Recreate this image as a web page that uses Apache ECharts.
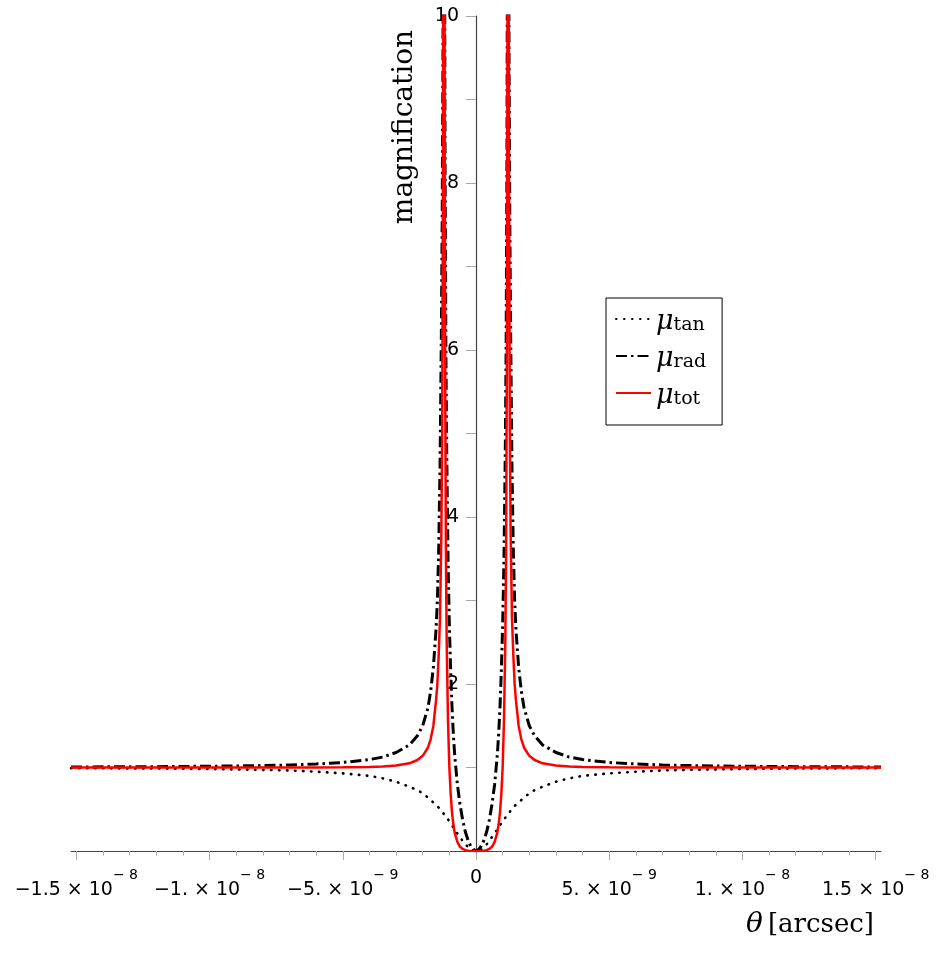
<!DOCTYPE html>
<html>
<head>
<meta charset="utf-8">
<script src="https://cdn.jsdelivr.net/npm/echarts@6/dist/echarts.min.js"></script>
<style>
html, body { margin: 0; background: #fff; }
#chart { width: 945px; height: 955px; }
</style>
</head>
<body>
<div id="chart"></div>
<script>
// theta in units of 1e-9 arcsec
var theta = [
  -15.2, -12, -10, -8, -7, -6, -5, -4, -3.5, -3.0, -2.5, -2.2, -2.0, -1.8, -1.7, -1.6, -1.5, -1.45, -1.4, -1.35, -1.3, -1.27,
  -1.24, -1.22, -1.21, -1.19, -1.18, -1.16, -1.13, -1.1, -1.05, -1.0, -0.95, -0.9, -0.85, -0.8, -0.7, -0.6, -0.5, -0.4, -0.3, -0.2, -0.1,
  0,
  0.1, 0.2, 0.3, 0.4, 0.5, 0.6, 0.7, 0.8, 0.85, 0.9, 0.95, 1.0, 1.05, 1.1, 1.13, 1.16, 1.18, 1.19, 1.21, 1.22, 1.24,
  1.27, 1.3, 1.35, 1.4, 1.45, 1.5, 1.6, 1.7, 1.8, 2.0, 2.2, 2.5, 3.0, 3.5, 4, 5, 6, 7, 8, 10, 12, 15.2
];
var muTan = [
  0.992, 0.988, 0.982, 0.972, 0.965, 0.95, 0.93, 0.90, 0.87, 0.83, 0.77, 0.73, 0.69, 0.64, 0.61, 0.58, 0.55, 0.54, 0.52, 0.50, 0.48, 0.47,
  0.46, 0.45, 0.45, 0.44, 0.43, 0.42, 0.41, 0.40, 0.38, 0.35, 0.33, 0.31, 0.28, 0.26, 0.21, 0.17, 0.12, 0.08, 0.05, 0.02, 0.01,
  0,
  0.01, 0.02, 0.05, 0.08, 0.12, 0.17, 0.21, 0.26, 0.28, 0.31, 0.33, 0.35, 0.38, 0.40, 0.41, 0.42, 0.43, 0.44, 0.45, 0.45, 0.46,
  0.47, 0.48, 0.50, 0.52, 0.54, 0.55, 0.58, 0.61, 0.64, 0.69, 0.73, 0.77, 0.83, 0.87, 0.90, 0.93, 0.95, 0.965, 0.972, 0.982, 0.988, 0.992
];
var muRad = [
  1.006, 1.01, 1.015, 1.023, 1.03, 1.042, 1.06, 1.095, 1.125, 1.18, 1.27, 1.38, 1.5, 1.72, 1.92, 2.2, 2.65, 3.0, 3.6, 4.6, 6.2, 7.5,
  9.5, 12, 14, 14, 11, 8.2, 6.0, 4.8, 3.5, 2.7, 2.15, 1.72, 1.4, 1.15, 0.8, 0.56, 0.37, 0.23, 0.13, 0.06, 0.02,
  0,
  0.02, 0.06, 0.13, 0.23, 0.37, 0.56, 0.8, 1.15, 1.4, 1.72, 2.15, 2.7, 3.5, 4.8, 6.0, 8.2, 11, 14, 14, 12, 9.5,
  7.5, 6.2, 4.6, 3.6, 3.0, 2.65, 2.2, 1.92, 1.72, 1.5, 1.38, 1.27, 1.18, 1.125, 1.095, 1.06, 1.042, 1.03, 1.023, 1.015, 1.01, 1.006
];
var muTot = [
  1.0, 1.0, 1.0, 1.0, 1.0, 1.001, 1.003, 1.007, 1.012, 1.025, 1.05, 1.09, 1.14, 1.24, 1.34, 1.5, 1.8, 2.0, 2.35, 2.8, 3.8, 5.0,
  8, 12, 15, 15, 10, 6.0, 3.6, 2.5, 1.55, 1.0, 0.68, 0.46, 0.32, 0.22, 0.11, 0.05, 0.025, 0.01, 0.004, 0, 0,
  0,
  0, 0, 0.004, 0.01, 0.025, 0.05, 0.11, 0.22, 0.32, 0.46, 0.68, 1.0, 1.55, 2.5, 3.6, 6.0, 10, 15, 15, 12, 8,
  5.0, 3.8, 2.8, 2.35, 2.0, 1.8, 1.5, 1.34, 1.24, 1.14, 1.09, 1.05, 1.025, 1.012, 1.007, 1.003, 1.001, 1.0, 1.0, 1.0, 1.0, 1.0
];

var seriesNames = ['μ_tan', 'μ_rad', 'μ_tot'];
var seriesSubs = ['tan', 'rad', 'tot'];

var xTicks = [-15, -10, -5, 0, 5, 10, 15];
var xTickMantissa = ['−1.5 × 10', '−1. × 10', '−5. × 10', '0', '5. × 10', '1. × 10', '1.5 × 10'];
var xTickExp = ['− 8', '− 8', '− 9', '', '− 9', '− 8', '− 8'];
var xMinorTicks = [-14, -13, -12, -11, -9, -8, -7, -6, -4, -3, -2, -1, 1, 2, 3, 4, 6, 7, 8, 9, 11, 12, 13, 14];
var yTickLabels = [2, 4, 6, 8, 10];

var dom = document.getElementById('chart');
var myChart = echarts.init(dom);

function pairs(values) {
    return theta.map(function (t, i) { return [t, values[i]]; });
}

var option = {
    animation: false,
    grid: { left: 71, right: 64, top: 16, bottom: 104 },
    legend: {
        orient: 'vertical',
        left: 606,
        top: 298,
        selectedMode: false,
        itemWidth: 35,
        itemHeight: 14,
        itemGap: 10,
        padding: [10, 16, 16, 9],
        borderColor: '#000',
        borderWidth: 1,
        backgroundColor: '#fff',
        itemStyle: { opacity: 0 },
        data: seriesNames,
        formatter: function (name) {
            return '{m|μ}{s|' + seriesSubs[seriesNames.indexOf(name)] + '}';
        },
        textStyle: {
            color: '#000',
            rich: {
                m: { fontFamily: 'DejaVu Serif', fontStyle: 'italic', fontSize: 27, lineHeight: 32, verticalAlign: 'bottom' },
                s: { fontFamily: 'DejaVu Serif', fontSize: 19, lineHeight: 19, verticalAlign: 'bottom' }
            }
        }
    },
    xAxis: [
        {
            type: 'value',
            min: -15.2,
            max: 15.2,
            position: 'bottom',
            axisLine: { onZero: false, lineStyle: { color: '#444', width: 1.2 } },
            axisTick: { customValues: xTicks, length: 9, lineStyle: { color: '#aaa' } },
            axisLabel: {
                customValues: xTicks,
                margin: 17,
                color: '#000',
                formatter: function (v) {
                    var i = xTicks.indexOf(v);
                    if (i < 0) return '';
                    if (!xTickExp[i]) return '{z|' + xTickMantissa[i] + '}';
                    return '{b|' + xTickMantissa[i] + '}{s|' + xTickExp[i] + '}';
                },
                rich: {
                    z: { fontFamily: 'DejaVu Sans', fontSize: 19, lineHeight: 20 },
                    b: { fontFamily: 'DejaVu Sans', fontSize: 19, lineHeight: 32, verticalAlign: 'bottom' },
                    s: { fontFamily: 'DejaVu Sans', fontSize: 14, lineHeight: 12, verticalAlign: 'top' }
                }
            },
            splitLine: { show: false }
        },
        {
            type: 'value',
            min: -15.2,
            max: 15.2,
            position: 'bottom',
            axisLine: { show: false, onZero: false },
            axisTick: { customValues: xMinorTicks, length: 4.5, lineStyle: { color: '#aaa' } },
            axisLabel: { show: false },
            splitLine: { show: false }
        }
    ],
    yAxis: {
        type: 'value',
        min: 0,
        max: 10,
        interval: 1,
        // move the whole axis (line, ticks, labels) to theta = 0
        offset: -405,
        axisLine: { show: true, onZero: false, lineStyle: { color: '#444', width: 1.2 } },
        axisTick: { length: 10, lineStyle: { color: '#aaa' } },
        axisLabel: {
            margin: 17,
            color: '#000',
            fontFamily: 'DejaVu Sans',
            fontSize: 19,
            formatter: function (v) {
                return yTickLabels.indexOf(v) >= 0 ? String(v) : '';
            }
        },
        splitLine: { show: false }
    },
    graphic: [
        {
            type: 'text',
            x: 405,
            y: 127,
            rotation: Math.PI / 2,
            style: {
                text: 'magnification',
                font: '28px "DejaVu Serif"',
                fill: '#000',
                textAlign: 'center',
                textVerticalAlign: 'middle'
            }
        },
        {
            type: 'text',
            x: 874,
            y: 925,
            style: {
                text: '{i|θ}{n|\u2009[arcsec]}',
                fill: '#000',
                textAlign: 'right',
                textVerticalAlign: 'middle',
                rich: {
                    i: { fontFamily: 'DejaVu Serif', fontStyle: 'italic', fontSize: 28 },
                    n: { fontFamily: 'DejaVu Serif', fontSize: 26 }
                }
            }
        }
    ],
    series: [
        {
            name: seriesNames[0],
            type: 'line',
            symbol: 'none',
            data: pairs(muTan),
            itemStyle: { color: '#000' },
            lineStyle: { color: '#000', width: 2.6, type: [0.5, 7.5], cap: 'round' }
        },
        {
            name: seriesNames[1],
            type: 'line',
            symbol: 'none',
            data: pairs(muRad),
            itemStyle: { color: '#000' },
            lineStyle: { color: '#000', width: 3, type: [11, 4, 2.5, 4] }
        },
        {
            name: seriesNames[2],
            type: 'line',
            symbol: 'none',
            data: pairs(muTot),
            itemStyle: { color: '#ff0000' },
            lineStyle: { color: '#ff0000', width: 2.5 }
        }
    ]
};

if (option && typeof option === 'object') {
    myChart.setOption(option);
}

window.addEventListener('resize', myChart.resize);
</script>
</body>
</html>
